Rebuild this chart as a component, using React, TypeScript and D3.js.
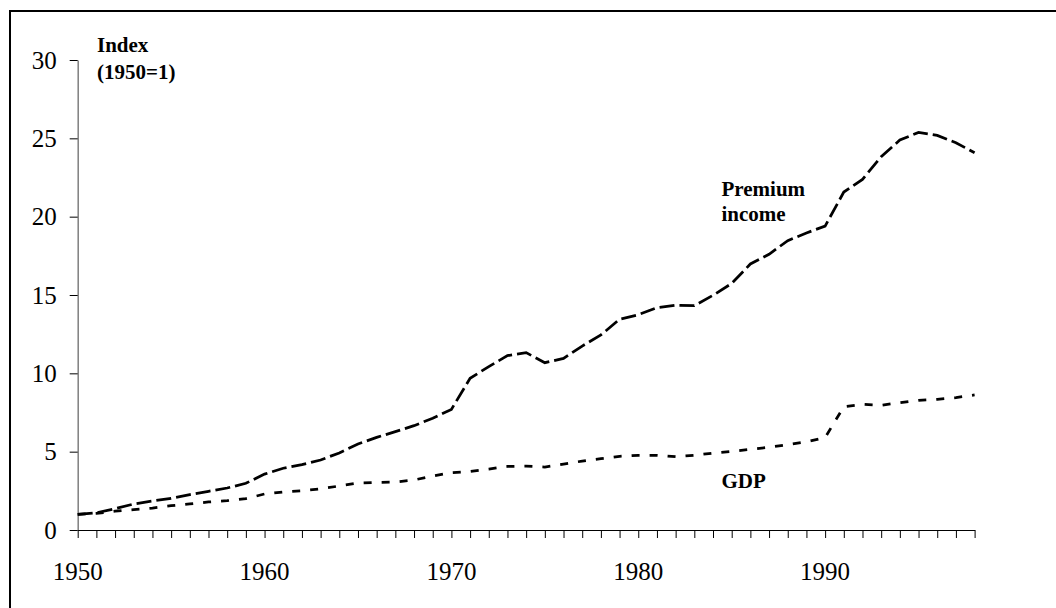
import React, { useEffect, useRef } from 'react';
import * as d3 from 'd3';

const years: number[] = d3.range(1950, 1999);

const premiumIncome: number[] = [
  1.0, 1.1, 1.36, 1.66, 1.85, 2.02, 2.26, 2.47, 2.68, 2.98,
  3.57, 3.94, 4.17, 4.47, 4.92, 5.49, 5.91, 6.28, 6.66, 7.13,
  7.7, 9.68, 10.43, 11.13, 11.32, 10.68, 10.95, 11.74, 12.45, 13.45,
  13.74, 14.19, 14.34, 14.32, 14.98, 15.74, 16.98, 17.6, 18.47, 18.96,
  19.4, 21.57, 22.38, 23.83, 24.89, 25.38, 25.19, 24.72, 24.08,
];

const gdp: number[] = [
  1.0, 1.06, 1.2, 1.3, 1.4, 1.55, 1.66, 1.79, 1.87, 2.0,
  2.3, 2.43, 2.51, 2.63, 2.81, 3.0, 3.04, 3.06, 3.19, 3.45,
  3.66, 3.74, 3.89, 4.06, 4.08, 4.02, 4.21, 4.4, 4.55, 4.7,
  4.77, 4.77, 4.68, 4.77, 4.91, 5.02, 5.15, 5.28, 5.45, 5.63,
  5.9, 7.87, 8.02, 7.96, 8.13, 8.28, 8.34, 8.45, 8.62,
];

const yTicks: number[] = [0, 5, 10, 15, 20, 25, 30];
const xLabels: number[] = [1950, 1960, 1970, 1980, 1990];

const FONT = '"Liberation Serif", "Times New Roman", serif';

const App = () => {
  const svgRef = useRef<SVGSVGElement>(null);

  useEffect(() => {
    const svg = d3.select(svgRef.current)
      .attr('width', 1056)
      .attr('height', 608);

    svg.selectAll('*').remove();

    // outer frame (top + left edges only visible)
    svg.append('line')
      .attr('x1', 9).attr('y1', 11).attr('x2', 1056).attr('y2', 11)
      .attr('stroke', '#000').attr('stroke-width', 2);
    svg.append('line')
      .attr('x1', 10).attr('y1', 10).attr('x2', 10).attr('y2', 608)
      .attr('stroke', '#000').attr('stroke-width', 2);

    const x = d3.scaleLinear().domain([1950, 1998]).range([77.7, 974.6]);
    const y = d3.scaleLinear().domain([0, 30]).range([530, 60]);

    // y axis
    const yAxis = svg.append('g')
      .attr('transform', `translate(${x(1950)},0)`)
      .call(d3.axisLeft(y).tickValues(yTicks).tickSize(8).tickPadding(13).tickSizeOuter(0));
    yAxis.select('.domain').attr('stroke', '#7f7f7f').attr('stroke-width', 1.5);
    yAxis.selectAll('.tick line').attr('stroke', '#000');
    yAxis.selectAll('.tick text')
      .attr('font-family', FONT).attr('font-size', 25).attr('fill', '#000')
      .attr('dy', '0.32em');

    // x axis
    const xAxis = svg.append('g')
      .attr('transform', `translate(0,${y(0)})`)
      .call(d3.axisBottom(x).tickValues(years).tickSize(8).tickSizeOuter(0).tickFormat(() => ''));
    xAxis.select('.domain').attr('stroke', '#000');
    xAxis.selectAll('.tick line').attr('stroke', '#000');

    svg.append('g')
      .selectAll('text')
      .data(xLabels)
      .enter()
      .append('text')
      .attr('x', d => x(d))
      .attr('y', y(0) + 49.5)
      .attr('text-anchor', 'middle')
      .attr('font-family', FONT)
      .attr('font-size', 25)
      .text(d => d);

    const line = d3.line<number>()
      .x((_, i) => x(years[i]))
      .y(d => y(d));

    svg.append('path')
      .datum(premiumIncome)
      .attr('d', line)
      .attr('fill', 'none')
      .attr('stroke', '#000')
      .attr('stroke-width', 2.75)
      .attr('stroke-dasharray', '15,5');

    svg.append('path')
      .datum(gdp)
      .attr('d', line)
      .attr('fill', 'none')
      .attr('stroke', '#000')
      .attr('stroke-width', 2.75)
      .attr('stroke-dasharray', '8,10');

    // labels
    const labels = [
      { text: 'Index', x: 97, y: 52 },
      { text: '(1950=1)', x: 97, y: 79 },
      { text: 'Premium', x: 721.5, y: 196 },
      { text: 'income', x: 721.5, y: 221 },
      { text: 'GDP', x: 721.5, y: 488 },
    ];
    svg.append('g')
      .selectAll('text')
      .data(labels)
      .enter()
      .append('text')
      .attr('x', d => d.x)
      .attr('y', d => d.y)
      .attr('font-family', FONT)
      .attr('font-weight', 'bold')
      .attr('font-size', 21)
      .text(d => d.text);
  }, []);

  return (
    <svg ref={svgRef} style={{ position: 'absolute', left: 0, top: 0 }}></svg>
  );
};

export default App;
